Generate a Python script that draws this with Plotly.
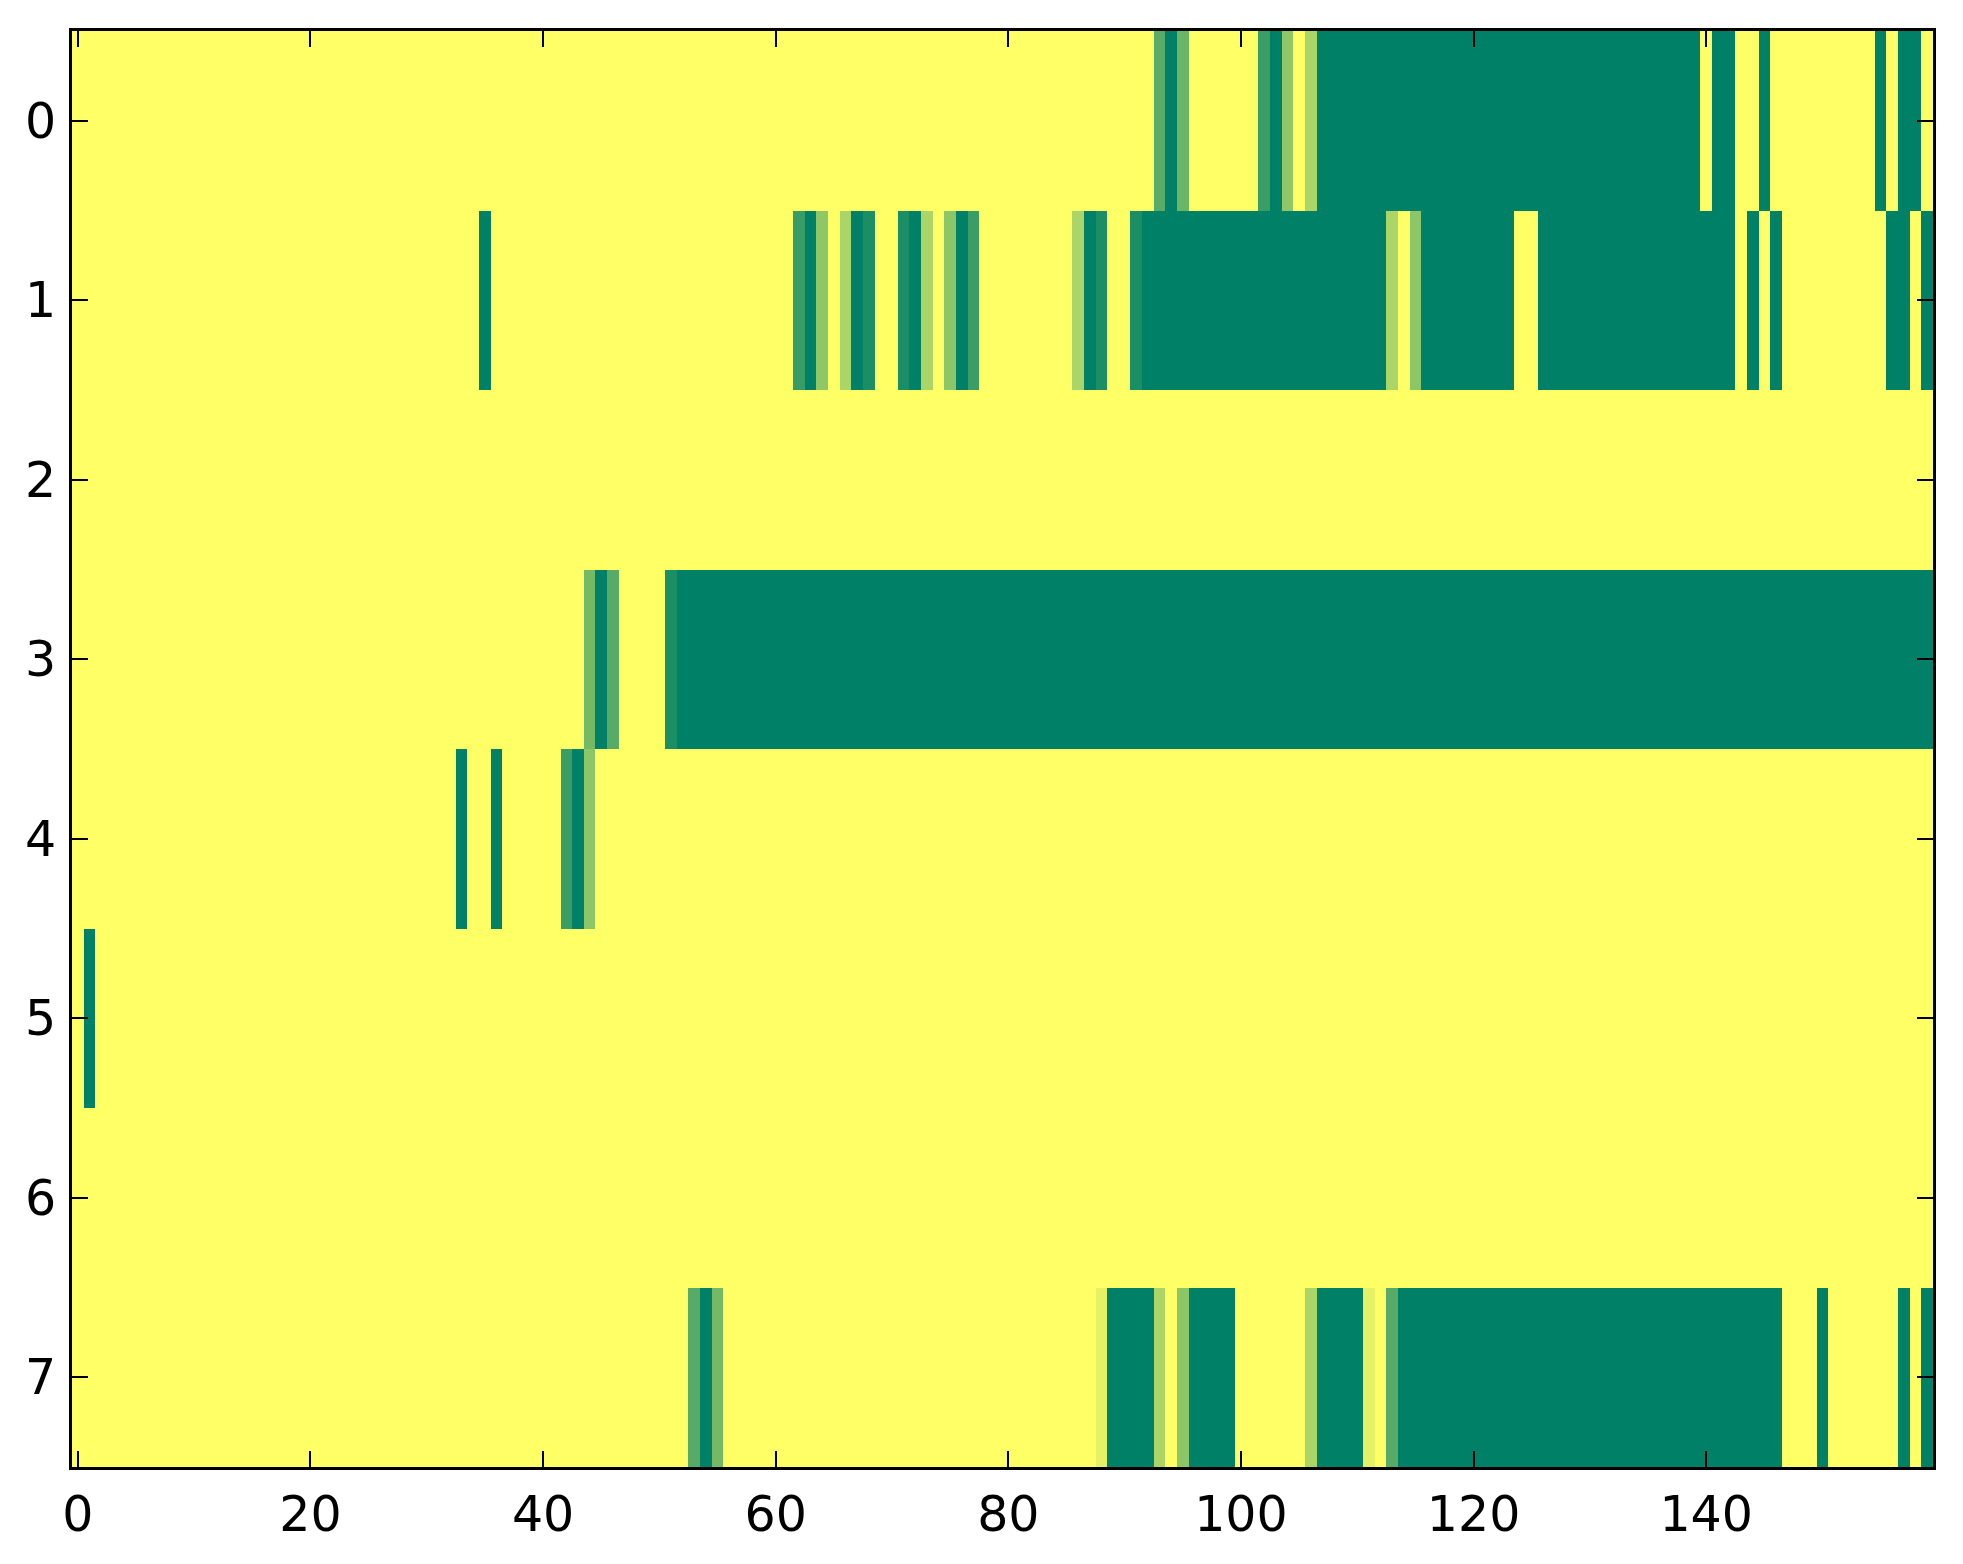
import plotly.graph_objects as go

# 8 rows x 160 columns, values in [0, 1] (1 = yellow, 0 = dark green).
# every cell is 1.0 unless listed below as (first_col, last_col, value)
n_cols = 160
row_labels = [0, 1, 2, 3, 4, 5, 6, 7]

row0 = [(93, 93, 0.35), (94, 94, 0.0), (95, 95, 0.42), (102, 102, 0.23),
        (103, 103, 0.0), (104, 104, 0.56), (106, 106, 0.67), (107, 139, 0.0),
        (141, 142, 0.0), (145, 145, 0.0), (155, 155, 0.0), (157, 158, 0.0)]
row1 = [(35, 35, 0.0), (62, 62, 0.22), (63, 63, 0.0), (64, 64, 0.56),
        (66, 66, 0.67), (67, 67, 0.0), (68, 68, 0.11), (71, 71, 0.11),
        (72, 72, 0.0), (73, 73, 0.67), (75, 75, 0.55), (76, 76, 0.0),
        (77, 77, 0.23), (86, 86, 0.67), (87, 87, 0.0), (88, 88, 0.11),
        (91, 91, 0.11), (92, 112, 0.0), (113, 113, 0.67), (115, 115, 0.55),
        (116, 123, 0.0), (126, 142, 0.0), (144, 144, 0.0), (146, 146, 0.0),
        (156, 157, 0.0), (159, 159, 0.0)]
row2 = []
row3 = [(44, 44, 0.45), (45, 45, 0.0), (46, 46, 0.34), (51, 51, 0.11),
        (52, 159, 0.0)]
row4 = [(33, 33, 0.0), (36, 36, 0.0), (42, 42, 0.23), (43, 43, 0.0),
        (44, 44, 0.55)]
row5 = [(1, 1, 0.0)]
row6 = []
row7 = [(53, 53, 0.34), (54, 54, 0.0), (55, 55, 0.45), (88, 88, 0.9),
        (89, 92, 0.0), (93, 93, 0.67), (95, 95, 0.55), (96, 99, 0.0),
        (106, 106, 0.67), (107, 110, 0.0), (111, 111, 0.9), (113, 113, 0.34),
        (114, 146, 0.0), (150, 150, 0.0), (157, 157, 0.0), (159, 159, 0.0)]

rows = [row0, row1, row2, row3, row4, row5, row6, row7]

z = []
for runs in rows:
    line = [1.0] * n_cols
    for a, b, v in runs:
        for c in range(a, b + 1):
            line[c] = v
    z.append(line)

# matplotlib "summer"
summer = [[0.0, "rgb(0,128,102)"], [1.0, "rgb(255,255,102)"]]

fig = go.Figure(go.Heatmap(
    z=z,
    x=list(range(n_cols)),
    y=row_labels,
    colorscale=summer,
    zmin=0, zmax=1,
    showscale=False,
    hoverinfo="skip",
))

axis_style = dict(
    showline=True, linecolor="black", linewidth=3, mirror="ticks",
    ticks="inside", ticklen=16, tickwidth=2, tickcolor="black",
    showgrid=False, zeroline=False,
    tickfont=dict(family="DejaVu Sans", size=49, color="black"),
)

# the page body adds an 8px offset, margins account for it
fig.update_layout(
    width=1963, height=1564,
    margin=dict(l=64, r=38, t=23, b=105),
    paper_bgcolor="white", plot_bgcolor="white",
    xaxis=dict(range=[-0.5, 159.5], tickvals=[0, 20, 40, 60, 80, 100, 120, 140],
               ticklabelstandoff=2, **axis_style),
    yaxis=dict(range=[7.5, -0.5], tickvals=row_labels,
               ticklabelstandoff=3, **axis_style),
)

fig.write_html("out.html")
